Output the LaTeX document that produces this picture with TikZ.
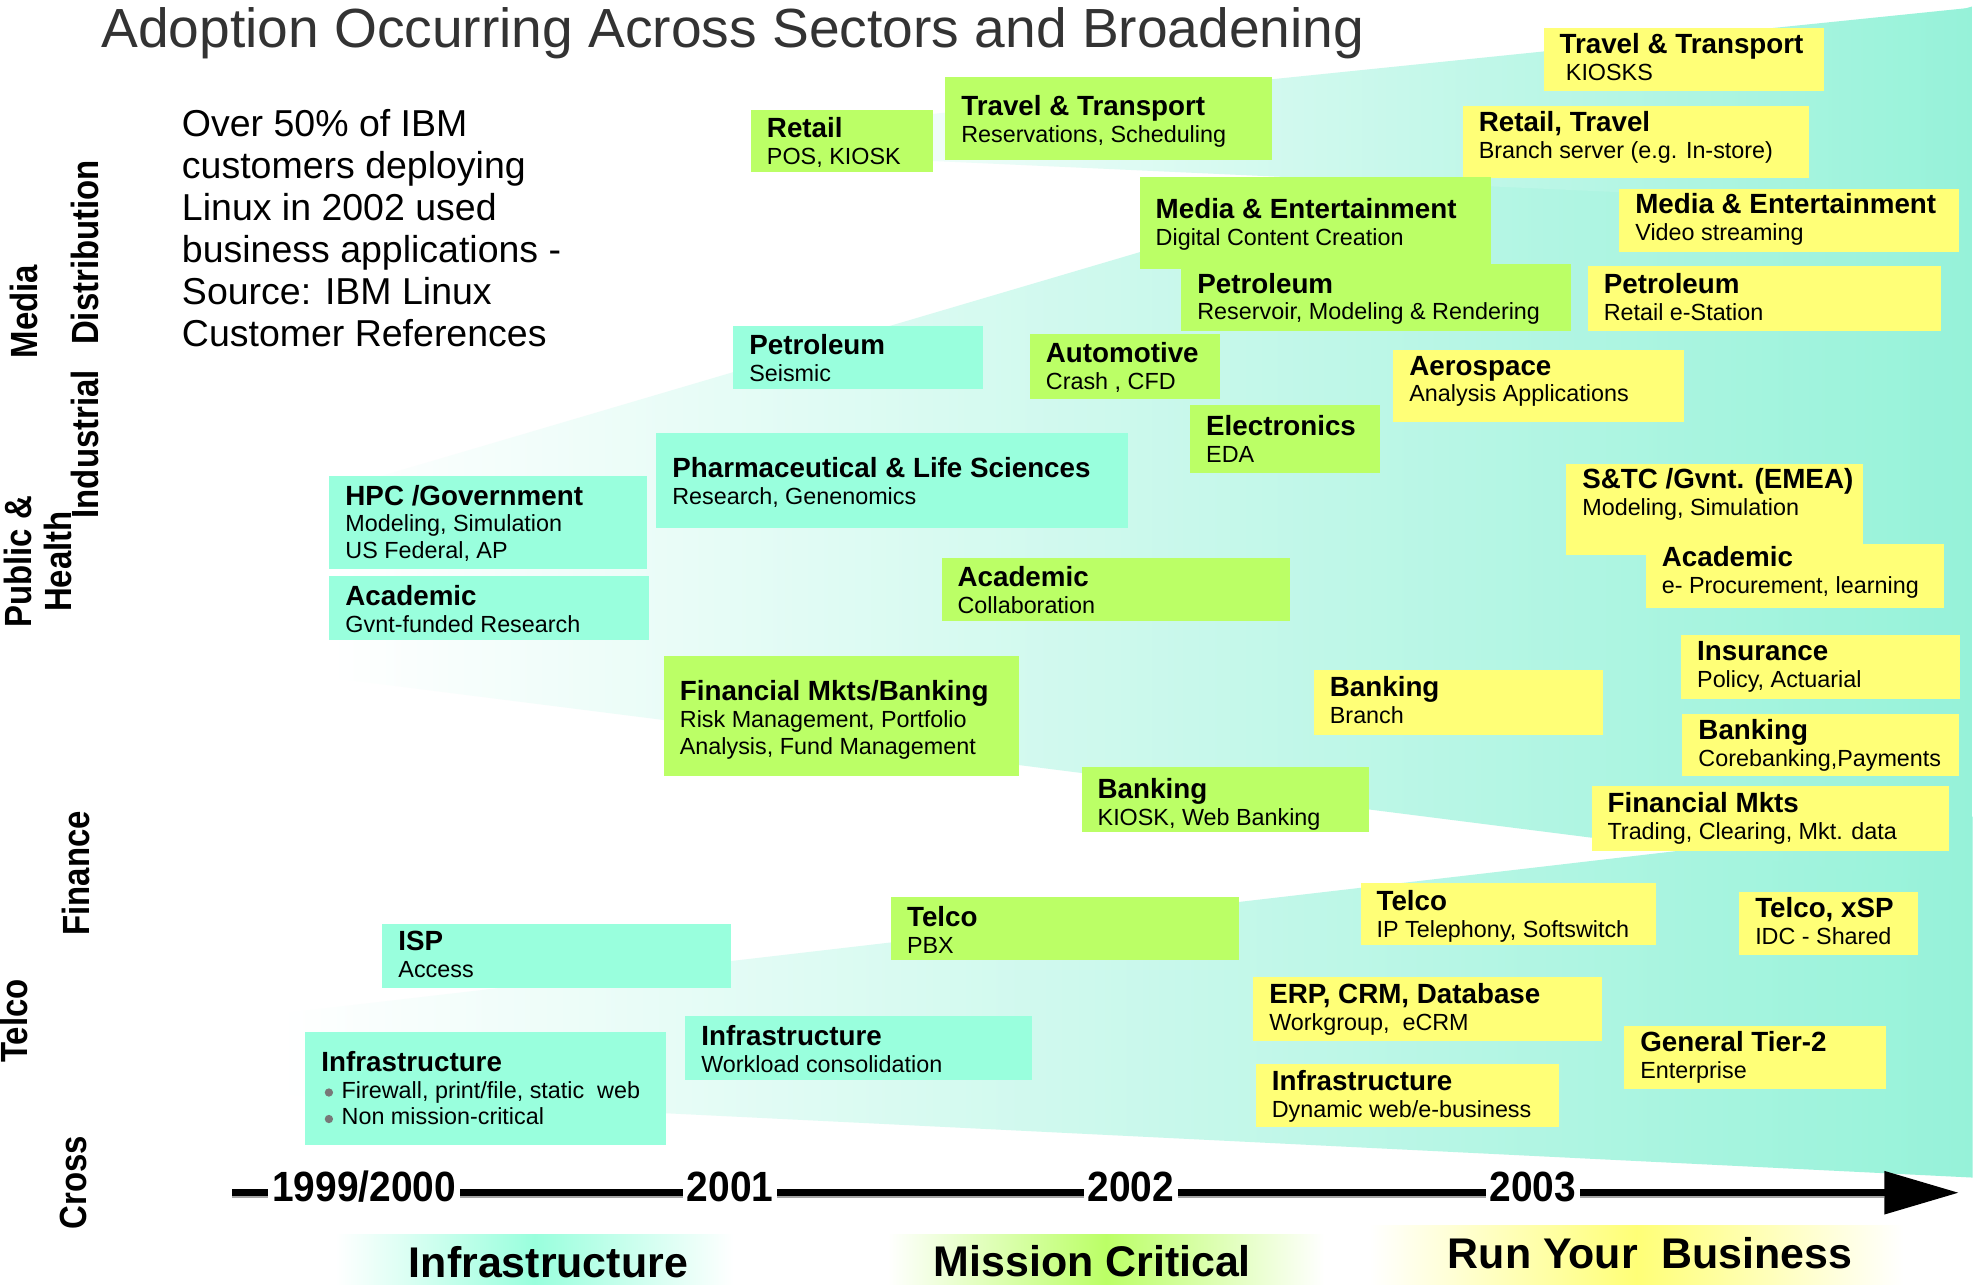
\documentclass[tikz,border=0pt]{standalone}
\usepackage{fontspec}
\setmainfont{Liberation Sans}
\usepackage{graphicx}
\usetikzlibrary{arrows.meta}
\definecolor{tealbox}{RGB}{153,255,221}
\definecolor{greenbox}{RGB}{187,255,102}
\definecolor{yellowbox}{RGB}{255,255,119}
\definecolor{wedgeend}{RGB}{150,242,217}
\definecolor{titlegray}{RGB}{51,51,51}
\definecolor{bulletgray}{RGB}{120,120,120}
\newcommand{\hd}[1]{\rule{0pt}{17pt}{\fontsize{22}{21.3}\selectfont\bfseries #1}}
\tikzset{
  secrect/.style={rectangle, inner sep=0pt, outer sep=0pt, anchor=north west, draw=none},
  sectext/.style={anchor=north west, inner sep=0pt, align=left, font=\fontsize{18.5}{21.3}\selectfont},
  sidelab/.style={rotate=90, inner sep=0pt, align=center, font=\fontsize{30}{32}\selectfont\bfseries},
  yearlab/.style={fill=white, inner xsep=3pt, inner ysep=1pt, anchor=base, font=\fontsize{33.5}{34}\selectfont\bfseries},
  phaselab/.style={anchor=base, inner sep=0pt, font=\fontsize{34}{34}\selectfont\bfseries},
  phasebg/.style={rectangle, inner sep=0pt, anchor=north west, draw=none},
  wedge/.style={left color=white, right color=wedgeend},
  bulletdot/.style={fill=bulletgray},
}
\newcommand{\secbox}[8]{%
  \node[secrect, fill=#6, minimum width={#4pt-#2pt}, minimum height={#5pt-#3pt}] (#1) at (#2,#3) {};
  \node[sectext] (#1-t) at ([xshift=12.5pt, yshift={17pt-#7pt}]#1.north west) {#8};
}
\begin{document}
\begin{tikzpicture}[x=1pt, y=-1pt]
\useasboundingbox (0,0) rectangle (1568,1018);
\fill[white] (0,0) rectangle (1568,1018);

% gradient wedges
\shade[wedge] (222,803) -- (1563,647) -- (1563,933) -- (222,867) -- cycle;
\shade[wedge] (262,389) -- (1563,5) -- (1563,702) -- (262,537) -- cycle;
\shade[wedge] (595,105) -- (1563,6) -- (1563,165) -- (595,121) -- cycle;

% title and note
\node[anchor=base west, inner sep=0pt, text=titlegray, font=\fontsize{43.7}{50}\selectfont] (title) at (80,37.5) {Adoption Occurring Across Sectors and Broadening};
\node[anchor=north west, inner sep=0pt, align=left, font=\fontsize{29.7}{33.3}\selectfont] (note) at (144,86.5)
 {\rule{0pt}{21.5pt}Over 50\% of IBM\\customers deploying\\Linux in 2002 used\\business applications -\\Source: IBM Linux\\Customer References};

% sector boxes
\secbox{retail}{595}{87}{739}{136}{greenbox}{21.5}{\hd{Retail}\\POS, KIOSK}
\secbox{travelA}{749}{61}{1008}{127}{greenbox}{30.5}{\hd{Travel \& Transport}\\Reservations, Scheduling}
\secbox{travelB}{1223}{22}{1445}{72}{yellowbox}{20.3}{\hd{Travel \& Transport}\\\hspace*{5pt}KIOSKS}
\secbox{rettrav}{1159}{84}{1433}{141}{yellowbox}{20}{\hd{Retail, Travel}\\Branch server (e.g. In-store)}
\secbox{mediaA}{903}{140}{1181}{213}{greenbox}{33}{\hd{Media \& Entertainment}\\Digital Content Creation}
\secbox{petroB}{936}{209}{1245}{262}{greenbox}{23}{\hd{Petroleum}\\Reservoir, Modeling \& Rendering}
\secbox{mediaB}{1283}{150}{1552}{200}{yellowbox}{19}{\hd{Media \& Entertainment}\\Video streaming}
\secbox{petroC}{1258}{211}{1538}{262}{yellowbox}{21.4}{\hd{Petroleum}\\Retail e-Station}
\secbox{petroA}{581}{258}{779}{308}{tealbox}{22.5}{\hd{Petroleum}\\Seismic}
\secbox{auto}{816}{265}{967}{316}{greenbox}{22.4}{\hd{Automotive}\\Crash , CFD}
\secbox{aero}{1104}{277}{1334}{334}{yellowbox}{20}{\hd{Aerospace}\\Analysis Applications}
\secbox{elec}{943}{321}{1093}{375}{greenbox}{23.7}{\hd{Electronics}\\EDA}
\secbox{pharma}{520}{343}{894}{418}{tealbox}{35}{\hd{Pharmaceutical \& Life Sciences}\\Research, Genenomics}
\secbox{hpc}{261}{377}{513}{451}{tealbox}{23}{\hd{HPC /Government}\\Modeling, Simulation\\US Federal, AP}
\secbox{acadA}{261}{456}{514}{507}{tealbox}{23.4}{\hd{Academic}\\Gvnt-funded Research}
\secbox{acadB}{746}{442}{1022}{492}{greenbox}{22.3}{\hd{Academic}\\Collaboration}
\secbox{stc}{1241}{368}{1476}{440}{yellowbox}{19}{\hd{S\&TC /Gvnt. (EMEA)}\\Modeling, Simulation}
\secbox{acadC}{1304}{431}{1540}{482}{yellowbox}{18}{\hd{Academic}\\e- Procurement, learning}
\secbox{insur}{1332}{503}{1553}{554}{yellowbox}{20}{\hd{Insurance}\\Policy, Actuarial}
\secbox{bankC}{1333}{566}{1552}{615}{yellowbox}{20}{\hd{Banking}\\Corebanking,Payments}
\secbox{finm}{1261}{623}{1544}{674}{yellowbox}{20.5}{\hd{Financial Mkts}\\Trading, Clearing, Mkt. data}
\secbox{bankB}{1041}{531}{1270}{582}{yellowbox}{21}{\hd{Banking}\\Branch}
\secbox{finbank}{526}{520}{807}{615}{greenbox}{34.6}{\hd{Financial Mkts/Banking}\\Risk Management, Portfolio\\Analysis, Fund Management}
\secbox{bankA}{857}{608}{1085}{659}{greenbox}{24.5}{\hd{Banking}\\KIOSK, Web Banking}
\secbox{telcoA}{706}{711}{982}{761}{greenbox}{23}{\hd{Telco}\\PBX}
\secbox{telcoB}{1078}{700}{1312}{749}{yellowbox}{21}{\hd{Telco}\\IP Telephony, Softswitch}
\secbox{telcoC}{1378}{707}{1520}{757}{yellowbox}{20}{\hd{Telco, xSP}\\IDC - Shared}
\secbox{isp}{303}{732}{579}{783}{tealbox}{21}{\hd{ISP}\\Access}
\secbox{erp}{993}{774}{1269}{825}{yellowbox}{21}{\hd{ERP, CRM, Database}\\Workgroup,\ \ eCRM}
\secbox{tier}{1287}{813}{1494}{863}{yellowbox}{20.3}{\hd{General Tier-2}\\Enterprise}
\secbox{infraC}{995}{843}{1235}{893}{yellowbox}{20.7}{\hd{Infrastructure}\\Dynamic web/e-business}
\secbox{infraB}{543}{805}{818}{856}{tealbox}{23}{\hd{Infrastructure}\\Workload consolidation}
\secbox{infraA}{242}{818}{528}{907}{tealbox}{30.5}{\hd{Infrastructure}\\\hspace*{16pt}Firewall, print/file, static\ \ web\\\hspace*{16pt}Non mission-critical}
\fill[bulletdot] (260.6,865.6) circle (3.3);
\fill[bulletdot] (260.6,886.6) circle (3.3);

% sector labels
\node[sidelab] (lmedia) at (19,247) {\scalebox{0.87}[1]{Media}};
\node[sidelab] (ldist) at (67,200) {\scalebox{0.87}[1]{Distribution}};
\node[sidelab] (lind) at (67,352) {\scalebox{0.87}[1]{Industrial}};
\node[sidelab] (lpub) at (30,445) {\scalebox{0.87}[1]{Public \&}\\\scalebox{0.87}[1]{Health}};
\node[sidelab] (lfin) at (60,692) {\scalebox{0.87}[1]{Finance}};
\node[sidelab] (ltel) at (11,809) {\scalebox{0.87}[1]{Telco}};
\node[sidelab] (lcross) at (58,937) {\scalebox{0.87}[1]{Cross}};

% timeline
\coordinate (tlstart) at (184,945);
\coordinate (tltip) at (1552,945);
\draw[line width=2pt, black!35] (184,948.5) -- (1493,948.5);
\draw[line width=5.5pt, -{Triangle[length=59pt,width=33pt]}] (tlstart) -- (tltip);
\node[yearlab] (y1) at (288.5,952) {\scalebox{0.92}[1]{1999/2000}};
\node[yearlab] (y2) at (578.5,952) {\scalebox{0.92}[1]{2001}};
\node[yearlab] (y3) at (896,952) {\scalebox{0.92}[1]{2002}};
\node[yearlab] (y4) at (1214.5,952) {\scalebox{0.92}[1]{2003}};

% phase labels
\node[phasebg, left color=white, right color=white, middle color=tealbox, minimum width=315pt, minimum height=40pt] (pbgA) at (266,978) {};
\node[phasebg, left color=white, right color=white, middle color=greenbox, minimum width=346pt, minimum height=40pt] (pbgB) at (703,978) {};
\node[phasebg, left color=white, right color=white, middle color=yellowbox, minimum width=423pt, minimum height=47pt] (pbgC) at (1085,971) {};
\node[phaselab] (pA) at (434.5,1012.5) {Infrastructure};
\node[phaselab] (pB) at (865.5,1011.5) {Mission Critical};
\node[phaselab] (pC) at (1307.5,1005) {Run Your\ \ Business};
\end{tikzpicture}
\end{document}
